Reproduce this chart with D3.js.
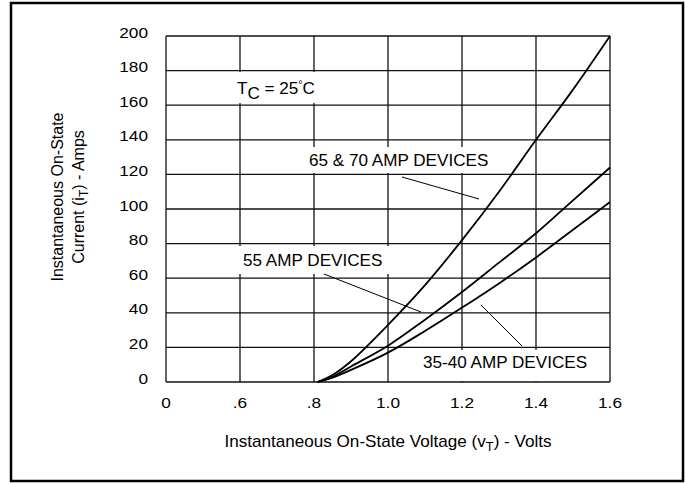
<!DOCTYPE html>
<html>
<head>
<meta charset="utf-8">
<script src="https://cdn.jsdelivr.net/npm/d3@7"></script>
<style>
  html, body { margin: 0; padding: 0; background: #fff; }
  svg { display: block; font-family: "Liberation Sans", Arial, sans-serif; }
</style>
</head>
<body>
<div id="chart"></div>
<script>
// tegangan (V) dan arus (A)
const voltage = [0.81, 0.85, 0.9, 1.0, 1.1, 1.2, 1.3, 1.4, 1.5, 1.6];
const amp6570 = [0, 4, 12, 33, 56, 82, 110, 140, 169, 200];
const amp55 = [0, 3, 9, 21, 36, 52, 69, 86, 105, 124];
const amp3540 = [0, 2.5, 7, 17, 29.5, 43, 57, 72, 88, 104];

const xTicks = [0.4, 0.6, 0.8, 1.0, 1.2, 1.4, 1.6];
const xTickLabels = ["0", ".6", ".8", "1.0", "1.2", "1.4", "1.6"];
const yTicks = [0, 20, 40, 60, 80, 100, 120, 140, 160, 180, 200];

const W = 685, H = 483;
const margin = { top: 36, right: 75, bottom: 101, left: 166 };

const svg = d3.select("#chart").append("svg")
  .attr("width", W)
  .attr("height", H);

// bingkai luar
svg.append("rect")
  .attr("x", 11).attr("y", 3)
  .attr("width", 672).attr("height", 478)
  .attr("fill", "none")
  .attr("stroke", "#000")
  .attr("stroke-width", 2.5);

const x = d3.scaleLinear().domain([0.4, 1.6]).range([margin.left, W - margin.right]);
const y = d3.scaleLinear().domain([0, 200]).range([H - margin.bottom, margin.top]);

// teks dengan sedikit peregangan horizontal seperti aslinya
function label(g, tx, ty, anchor, size, sx) {
  return g.append("text")
    .attr("transform", `translate(${tx},${ty}) scale(${sx},1)`)
    .attr("text-anchor", anchor)
    .attr("font-size", size)
    .attr("fill", "#000");
}

// grid vertikal
svg.append("g")
  .selectAll("line")
  .data(xTicks)
  .join("line")
  .attr("x1", d => x(d)).attr("x2", d => x(d))
  .attr("y1", y(0)).attr("y2", y(200))
  .attr("stroke", "#111")
  .attr("stroke-width", 1.3);

// kotak putih di belakang anotasi (memutus garis grid)
const boxes = [
  [232, 72, 88, 31],
  [303, 147, 192, 26],
  [237, 246, 152, 28],
  [418, 350, 176, 31]
];
svg.append("g")
  .selectAll("rect")
  .data(boxes)
  .join("rect")
  .attr("x", d => d[0]).attr("y", d => d[1])
  .attr("width", d => d[2]).attr("height", d => d[3])
  .attr("fill", "#fff");

// grid horizontal
svg.append("g")
  .selectAll("line")
  .data(yTicks)
  .join("line")
  .attr("x1", x(0.4)).attr("x2", x(1.6))
  .attr("y1", d => y(d)).attr("y2", d => y(d))
  .attr("stroke", "#111")
  .attr("stroke-width", 1.3);

// label sumbu Y
const yAxisG = svg.append("g");
yTicks.forEach(t => {
  label(yAxisG, 148, y(t) + 1.5, "end", 15, 1.15).text(t);
});

// label sumbu X
const xAxisG = svg.append("g");
xTicks.forEach((t, i) => {
  label(xAxisG, x(t), 408, "middle", 15, 1.15).text(xTickLabels[i]);
});

// kurva
const line = d3.line()
  .x((d, i) => x(voltage[i]))
  .y(d => y(d))
  .curve(d3.curveCatmullRom.alpha(0.5));

[amp6570, amp55, amp3540].forEach(s => {
  svg.append("path")
    .datum(s)
    .attr("d", line)
    .attr("fill", "none")
    .attr("stroke", "#000")
    .attr("stroke-width", 1.8);
});

// garis penunjuk
const leaders = [
  [402, 177, 479, 199],
  [324, 274, 421, 312],
  [481, 305, 522, 346]
];
svg.append("g")
  .selectAll("line")
  .data(leaders)
  .join("line")
  .attr("x1", d => d[0]).attr("y1", d => d[1])
  .attr("x2", d => d[2]).attr("y2", d => d[3])
  .attr("stroke", "#000")
  .attr("stroke-width", 1);

// anotasi
const ann = svg.append("g");
const tc = label(ann, 237, 94, "start", 16, 1.07);
tc.append("tspan").text("T");
tc.append("tspan").attr("dy", 5).text("C");
tc.append("tspan").attr("dy", -5).text(" = 25");
tc.append("tspan").attr("font-size", 10).attr("dy", -6).text("°");
tc.append("tspan").attr("dy", 6).text("C");

label(ann, 309, 166, "start", 16, 1.07).text("65 & 70 AMP DEVICES");
label(ann, 243, 266, "start", 16, 1.07).text("55 AMP DEVICES");
label(ann, 423, 368, "start", 16, 1.07).text("35-40 AMP DEVICES");

// judul sumbu X
const xt = label(svg, 388, 447, "middle", 16, 1.07);
xt.append("tspan").text("Instantaneous On-State Voltage (v");
xt.append("tspan").attr("font-size", 12).attr("dy", 4).text("T");
xt.append("tspan").attr("dy", -4).text(") - Volts");

// judul sumbu Y (dua baris)
const yt = svg.append("text")
  .attr("transform", "translate(63,197) rotate(-90)")
  .attr("text-anchor", "middle")
  .attr("font-size", 16);
yt.append("tspan").attr("x", 0).text("Instantaneous On-State");
const yt2 = svg.append("text")
  .attr("transform", "translate(84,197) rotate(-90)")
  .attr("text-anchor", "middle")
  .attr("font-size", 16);
yt2.append("tspan").text("Current (i");
yt2.append("tspan").attr("font-size", 12).attr("dy", 4).text("T");
yt2.append("tspan").attr("dy", -4).text(") - Amps");
</script>
</body>
</html>
